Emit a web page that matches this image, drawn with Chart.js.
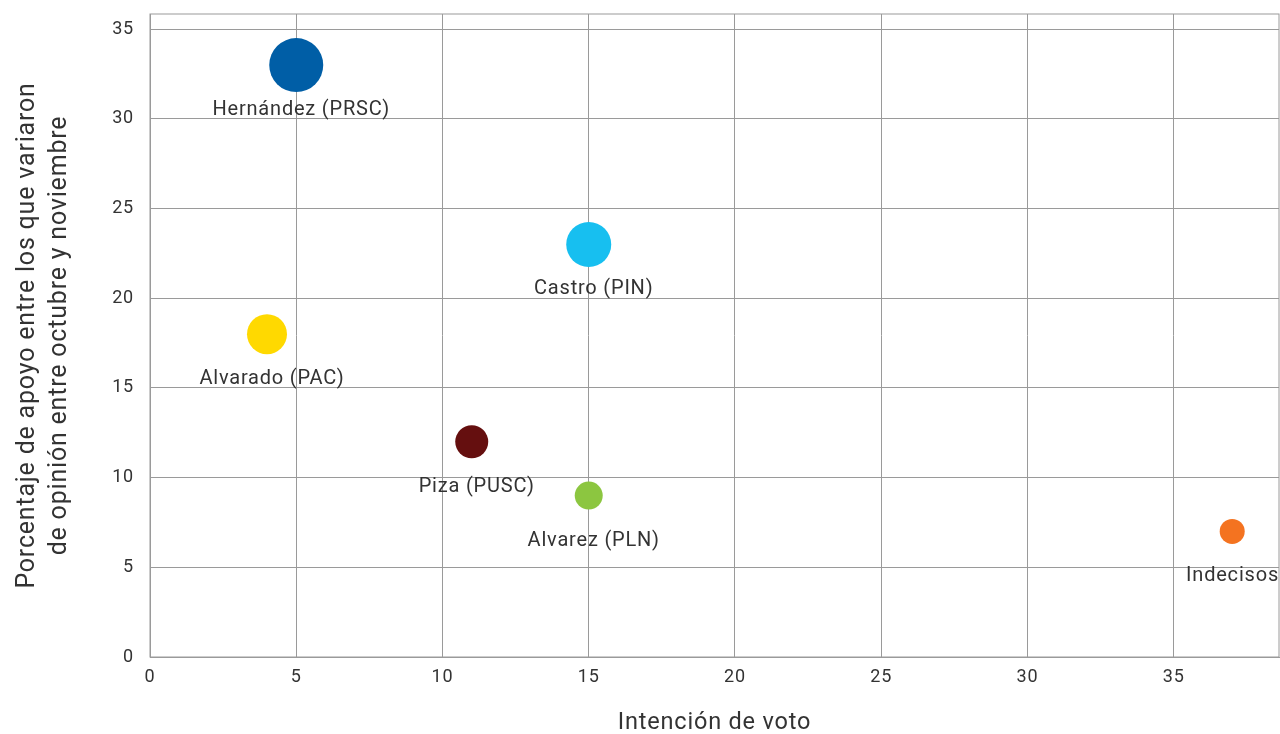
<!DOCTYPE html>
<html>
<head>
<meta charset="utf-8">
<script src="https://cdn.jsdelivr.net/npm/chart.js@4.4.0/dist/chart.umd.min.js"></script>
<style>
    html, body { margin: 0; padding: 0; background: #fff; }
    #wrap { width: 1280px; height: 734px; }
</style>
</head>
<body>
<div id="wrap"><canvas id="bubbleChart"></canvas></div>
<script>
// data
const candidates = ['Hernández (PRSC)', 'Castro (PIN)', 'Alvarado (PAC)', 'Piza (PUSC)', 'Alvarez (PLN)', 'Indecisos'];
const votoIntencion = [5, 15, 4, 11, 15, 37];
const apoyoVariaron = [33, 23, 18, 12, 9, 7];
const bubbleSize = [27, 22.5, 20, 16.5, 14, 12.5];
const colors = ['#005ea6', '#17bff0', '#ffd900', '#650f0f', '#8cc640', '#f47320'];
const xTicks = [0, 5, 10, 15, 20, 25, 30, 35];
const yTicks = [0, 5, 10, 15, 20, 25, 30, 35];

const font = "Roboto, 'DejaVu Sans', sans-serif";
const gridColor = '#9a9a9a';
const spacing = '0.8px';

// bubbles shouldn't push the plot area in
Chart.BubbleController.prototype.getMaxOverflow = function () { return 0; };

// wider letter spacing like the original font
const letterSpace = {
    id: 'letterSpace',
    beforeUpdate(chart) { chart.ctx.letterSpacing = spacing; },
    beforeDraw(chart) { chart.ctx.letterSpacing = spacing; }
};

// labels under each bubble + border round the plot
const bubbleLabels = {
    id: 'bubbleLabels',
    afterDatasetsDraw(chart) {
        const c = chart.ctx;
        const area = chart.chartArea;
        c.save();
        c.strokeStyle = gridColor;
        c.lineWidth = 1;
        c.strokeRect(area.left, area.top, area.right - area.left, area.bottom - area.top);
        c.font = '20px ' + font;
        c.fillStyle = '#333';
        c.textAlign = 'center';
        c.textBaseline = 'middle';
        chart.getDatasetMeta(0).data.forEach(function (pt, i) {
            const w = c.measureText(candidates[i]).width;
            const x = Math.min(pt.x + 5, chart.width - w / 2 - 1);
            c.fillText(candidates[i], x, pt.y + 45);
        });
        c.restore();
    }
};

new Chart(document.getElementById('bubbleChart'), {
    type: 'bubble',
    data: {
        datasets: [{
            data: candidates.map((n, i) => ({ x: votoIntencion[i], y: apoyoVariaron[i], r: bubbleSize[i] })),
            backgroundColor: colors,
            borderWidth: 0,
            hoverBorderWidth: 0
        }]
    },
    options: {
        responsive: true,
        maintainAspectRatio: false,
        animation: false,
        layout: { padding: { top: 14, right: 1, left: 0, bottom: 0 } },
        plugins: { legend: { display: false }, tooltip: { enabled: false } },
        scales: {
            x: {
                type: 'linear',
                min: 0,
                max: 38.6,
                afterBuildTicks: s => { s.ticks = xTicks.map(v => ({ value: v })); },
                ticks: { font: { family: font, size: 18 }, color: '#333', padding: 10 },
                grid: { color: gridColor, drawTicks: false },
                border: { color: gridColor },
                title: { display: true, text: 'Intención de voto', font: { family: font, size: 23.5 }, color: '#333', padding: { top: 22, bottom: -3 } },
                afterFit: s => { s.height = 77; }
            },
            y: {
                type: 'linear',
                min: 0,
                max: 35.85,
                afterBuildTicks: s => { s.ticks = yTicks.map(v => ({ value: v })); },
                ticks: { font: { family: font, size: 18 }, color: '#333', padding: 16 },
                grid: { color: gridColor, drawTicks: false },
                border: { color: gridColor },
                title: {
                    display: true,
                    text: ['Porcentaje de apoyo entre los que variaron', 'de opinión entre octubre y noviembre'],
                    font: { family: font, size: 25, lineHeight: 1.28 },
                    color: '#333',
                    padding: { top: 12, bottom: 0 }
                },
                afterFit: s => { s.width = 150; s.paddingTop = 0; s.paddingBottom = 0; }
            }
        }
    },
    plugins: [letterSpace, bubbleLabels]
});
</script>
</body>
</html>
